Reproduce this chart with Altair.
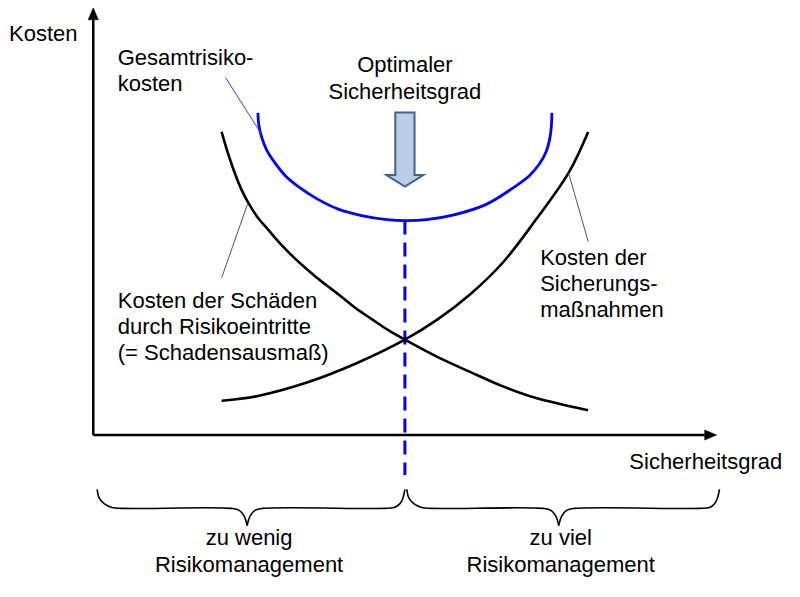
import altair as alt
import pandas as pd

# Data space: X = Sicherheitsgrad (0 at the Kosten axis), Y = Kosten (0 at the Sicherheitsgrad axis)
grad_schaden = [131, 137, 144, 151, 158, 168, 178, 188, 203, 218, 233, 251, 268, 285, 301,
                318, 351, 385, 418, 451, 505]
kosten_schaden = [318, 297, 276, 258, 244, 228, 216, 204, 188, 174, 161, 147, 133, 121, 110,
                  100, 82, 66, 51, 39, 26]

grad_sicherung = [131, 168, 218, 268, 318, 351, 385, 418, 451, 485, 505]
kosten_sicherung = [36, 41, 55, 75, 100, 121, 148, 181, 225, 275, 318]

grad_gesamt = [168, 169, 172, 177, 185, 196, 210, 228, 250, 275, 300, 318,
               340, 368, 401, 428, 445, 455, 462, 466, 467.5, 468]
kosten_gesamt = [338, 325, 312, 299, 286, 272, 260, 248, 237, 230, 226, 225,
                 226, 231, 242, 259, 272, 284, 297, 312, 325, 338]

optimum_grad = 318
optimum_kosten = 225

# Axis extents (data units)
achse_x_ende = 636
achse_y_ende = 448

# Curly braces below the axis (two halves each)
klammer_x = [
    [4, 6, 11, 19, 29, 141, 149, 154, 157],
    [157, 160, 165, 173, 297, 307, 313, 316, 318],
    [320, 322, 327, 335, 345, 459, 467, 472, 475],
    [475, 478, 483, 491, 619, 629, 634, 637, 639],
]
klammer_y = [
    [-57, -66, -72, -76, -77, -77, -79, -85, -95],
    [-95, -85, -79, -77, -77, -76, -72, -66, -57],
    [-57, -66, -72, -76, -77, -77, -79, -85, -95],
    [-95, -85, -79, -77, -77, -76, -72, -66, -57],
]

# Labels
texte_links = ["Kosten", "Gesamtrisiko-\nkosten",
               "Kosten der Schäden\ndurch Risikoeintritte\n(= Schadensausmaß)",
               "Kosten der\nSicherungs-\nmaßnahmen", "Sicherheitsgrad"]
texte_links_x = [-86, 25, 25, 456, 547]
texte_links_y = [413, 388, 133, 178, -36]

texte_mitte = ["Optimaler\nSicherheitsgrad", "zu wenig\nRisikomanagement", "zu viel\nRisikomanagement"]
texte_mitte_x = [318, 159, 477]
texte_mitte_y = [381, -115, -115]

# Leader lines (from label to curve)
hinweis_x = [135, 158, 485]
hinweis_y = [375, 244, 275]
hinweis_x2 = [172, 131, 505]
hinweis_y2 = [315, 165, 203]
hinweis_farbe = ["#3a3aff", "#555555", "#555555"]

XS = alt.Scale(domain=[-87, 713], nice=False, zero=False)
YS = alt.Scale(domain=[-150, 448], nice=False, zero=False)


def xe(f="X"):
    return alt.X(f"{f}:Q", scale=XS, axis=None)


def ye(f="Y"):
    return alt.Y(f"{f}:Q", scale=YS, axis=None)


df_curves = pd.concat([
    pd.DataFrame({"X": grad_schaden, "Y": kosten_schaden, "s": "Schaden",
                  "o": range(len(grad_schaden))}),
    pd.DataFrame({"X": grad_sicherung, "Y": kosten_sicherung, "s": "Sicherung",
                  "o": range(len(grad_sicherung))}),
])
df_gesamt = pd.DataFrame({"X": grad_gesamt, "Y": kosten_gesamt, "o": range(len(grad_gesamt))})

black_curves = alt.Chart(df_curves).mark_line(
    interpolate="catmull-rom", color="black", strokeWidth=2.6
).encode(x=xe(), y=ye(), detail="s:N", order="o:Q")

blue_curve = alt.Chart(df_gesamt).mark_line(
    interpolate="catmull-rom", color="#0000ff", strokeWidth=2.8
).encode(x=xe(), y=ye(), order="o:Q")

# Dashed optimum line
df_opt = pd.DataFrame({"X": [optimum_grad], "Y": [optimum_kosten], "Y2": [-42]})
dashed = alt.Chart(df_opt).mark_rule(
    color="#0000ff", strokeWidth=3, strokeDash=[14, 8]
).encode(x=xe(), y=ye(), y2=alt.Y2("Y2"))

# Axes
df_axes = pd.DataFrame({
    "X": [0, 0], "Y": [0, 0],
    "X2": [0, achse_x_ende - 12], "Y2": [achse_y_ende - 12, 0],
})
axes = alt.Chart(df_axes).mark_rule(color="black", strokeWidth=2.5).encode(
    x=xe(), y=ye(), x2=alt.X2("X2"), y2=alt.Y2("Y2"))

head_up = alt.Chart(pd.DataFrame({"X": [0], "Y": [achse_y_ende - 6]})).mark_point(
    shape="M 0 -1 L 0.85 1 L -0.85 1 Z", size=144, filled=True, fill="black",
    stroke="black", strokeWidth=0.5, opacity=1
).encode(x=xe(), y=ye())
head_right = alt.Chart(pd.DataFrame({"X": [achse_x_ende - 6], "Y": [0]})).mark_point(
    shape="M 1 0 L -1 0.85 L -1 -0.85 Z", size=144, filled=True, fill="black",
    stroke="black", strokeWidth=0.5, opacity=1
).encode(x=xe(), y=ye())

# Big arrow pointing to the optimum
big_arrow = alt.Chart(pd.DataFrame({"X": [optimum_grad], "Y": [299.5]})).mark_point(
    shape="M -0.26 -1 L 0.26 -1 L 0.26 0.69 L 0.5 0.69 L 0 1 L -0.5 0.69 L -0.26 0.69 Z",
    size=74 * 74, filled=True, fill="#b9cde5", stroke="#3f6393", strokeWidth=2,
    opacity=1, fillOpacity=1
).encode(x=xe(), y=ye())

# Braces
rows = []
for i, (xs, ys) in enumerate(zip(klammer_x, klammer_y)):
    for j, (a, b) in enumerate(zip(xs, ys)):
        rows.append({"X": a, "Y": b, "k": i, "o": j})
braces = alt.Chart(pd.DataFrame(rows)).mark_line(
    interpolate="catmull-rom", color="black", strokeWidth=1.6
).encode(x=xe(), y=ye(), detail="k:N", order="o:Q")

# Leader lines
df_hint = pd.DataFrame({"X": hinweis_x, "Y": hinweis_y, "X2": hinweis_x2,
                        "Y2": hinweis_y2, "c": hinweis_farbe})
hints = alt.Chart(df_hint).mark_rule(strokeWidth=1).encode(
    x=xe(), y=ye(), x2=alt.X2("X2"), y2=alt.Y2("Y2"),
    color=alt.Color("c:N", scale=None))

FONT = "Liberation Sans"
df_tl = pd.DataFrame({"X": texte_links_x, "Y": texte_links_y, "t": texte_links})
txt_left = alt.Chart(df_tl).mark_text(
    align="left", baseline="alphabetic", font=FONT, fontSize=22,
    lineHeight=26, lineBreak="\n", color="black"
).encode(x=xe(), y=ye(), text="t:N")

df_tm = pd.DataFrame({"X": texte_mitte_x, "Y": texte_mitte_y, "t": texte_mitte})
txt_mid = alt.Chart(df_tm).mark_text(
    align="center", baseline="alphabetic", font=FONT, fontSize=22,
    lineHeight=27, lineBreak="\n", color="black"
).encode(x=xe(), y=ye(), text="t:N")

chart = alt.layer(
    dashed, black_curves, blue_curve, axes, head_up, head_right, big_arrow,
    braces, hints, txt_left, txt_mid
).properties(
    width=784, height=570, padding=0,
    autosize=alt.AutoSizeParams(type="none"),
    background="white"
).configure_view(stroke=None)

chart.save("out.html", embed_options={"renderer": "svg", "actions": False})
